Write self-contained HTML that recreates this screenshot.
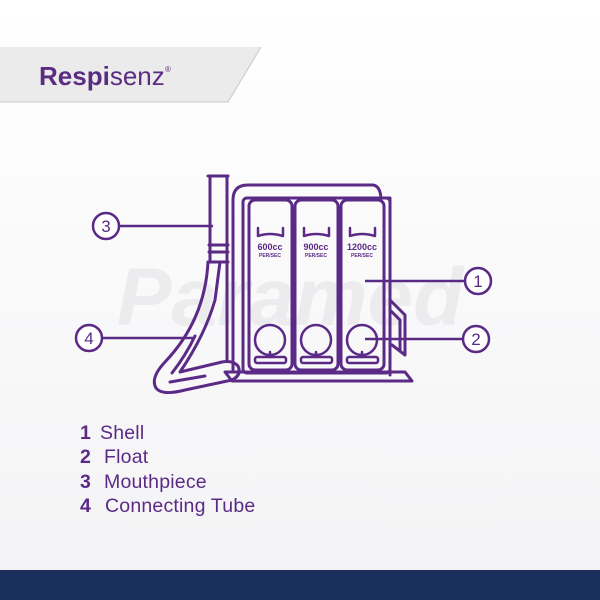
<!DOCTYPE html>
<html><head><meta charset="utf-8"><style>
html,body{margin:0;padding:0;width:600px;height:600px;overflow:hidden;background:#fbfbfc}
svg{display:block}
</style></head><body>
<svg width="600" height="600" viewBox="0 0 600 600" xmlns="http://www.w3.org/2000/svg" font-family="Liberation Sans, sans-serif">
<defs><linearGradient id="bg" x1="0" y1="0" x2="0" y2="1"><stop offset="0" stop-color="#ffffff"/><stop offset="1" stop-color="#f3f3f5"/></linearGradient></defs>
<rect width="600" height="600" fill="url(#bg)"/>
<polygon points="0,47 261,47 228,102 0,102" fill="#ebebec"/>
<polyline points="0,102 228,102 261,47" fill="none" stroke="#c8c8c8" stroke-width="1"/>
<text x="39" y="85" font-size="26" font-weight="bold" fill="#5a2d82">Respi<tspan font-weight="normal">senz</tspan></text>
<text x="165" y="72" font-size="8" fill="#5a2d82">®</text>
<text x="290" y="325" font-size="82" font-style="italic" font-weight="bold" fill="#ececef" text-anchor="middle">Paramed</text>
<g fill="none" stroke="#5b2a86" stroke-width="3" stroke-linejoin="round" stroke-linecap="round">
<path d="M233,370 L233,200 Q233,185 248,185 L372,185 Q380,185 381,198 L390,198 L390,375"/>
<rect x="243" y="198" width="147" height="175" rx="4"/>
<rect x="249" y="200" width="43" height="170" rx="6"/>
<rect x="295" y="200" width="43" height="170" rx="6"/>
<rect x="341" y="200" width="43" height="170" rx="6"/>
<g stroke-width="2.5">
<path d="M258,228 L258,236 Q270,232 283,236 L283,228"/>
<path d="M304,228 L304,236 Q316,232 329,236 L329,228"/>
<path d="M350,228 L350,236 Q362,232 375,236 L375,228"/>
<circle cx="270" cy="340" r="15"/><circle cx="316" cy="340" r="15"/><circle cx="362" cy="340" r="15"/>
<line x1="270" y1="352" x2="270" y2="357"/><line x1="316" y1="352" x2="316" y2="357"/><line x1="362" y1="352" x2="362" y2="357"/>
<rect x="255" y="357" width="31" height="6" rx="2"/><rect x="301" y="357" width="31" height="6" rx="2"/><rect x="347" y="357" width="31" height="6" rx="2"/>
</g>
<path d="M225,372 L232,381 L412,381 L405,372 Z"/>
<path d="M390,300 L405,315 L405,355 L392,345"/>
<path d="M390,310 L400,320 L400,350"/>
<!-- mouthpiece -->
<path d="M208,176 L228,176 M210,176 L210,245 M227,176 L227,245 M209,245 L228,245 M209,252 L228,252 M210,245 L210,262 M227,245 L227,360"/>
<!-- tube -->
<path d="M208,262 Q205,320 165,362 Q150,378 156,388 Q162,396 185,390 L232,380 Q242,375 238,366 Q233,360 222,362 L180,372 Q205,335 215,300 L220,262"/>
<path d="M208,262 L228,262"/>
<path d="M195,336 Q186,355 172,373"/>
<path d="M170,382 L205,376"/>
</g>
<text x="270" y="250" font-size="9" font-weight="bold" fill="#5b2a86" text-anchor="middle">600cc</text>
<text x="270" y="257" font-size="5" font-weight="bold" fill="#5b2a86" text-anchor="middle">PER/SEC</text>
<text x="316" y="250" font-size="9" font-weight="bold" fill="#5b2a86" text-anchor="middle">900cc</text>
<text x="316" y="257" font-size="5" font-weight="bold" fill="#5b2a86" text-anchor="middle">PER/SEC</text>
<text x="362" y="250" font-size="9" font-weight="bold" fill="#5b2a86" text-anchor="middle">1200cc</text>
<text x="362" y="257" font-size="5" font-weight="bold" fill="#5b2a86" text-anchor="middle">PER/SEC</text>
<g stroke="#5b2a86" stroke-width="2.5" fill="#fff">
<line x1="119" y1="226" x2="213" y2="226"/>
<line x1="102" y1="338" x2="195" y2="338"/>
<line x1="365" y1="281" x2="465" y2="281"/>
<line x1="365" y1="339" x2="463" y2="339"/>
<circle cx="106" cy="226" r="13"/>
<circle cx="89" cy="338" r="13"/>
<circle cx="478" cy="281" r="13"/>
<circle cx="476" cy="339" r="13"/>
</g>
<g font-size="17" fill="#5b2a86" text-anchor="middle">
<text x="106" y="232">3</text><text x="89" y="344">4</text><text x="478" y="287">1</text><text x="476" y="345">2</text>
</g>
<g font-size="19.5" fill="#5b2a86" letter-spacing="0.2">
<text x="80" y="439"><tspan font-weight="bold">1</tspan><tspan x="100">Shell</tspan></text>
<text x="80" y="463"><tspan font-weight="bold">2</tspan><tspan x="104">Float</tspan></text>
<text x="80" y="488"><tspan font-weight="bold">3</tspan><tspan x="104">Mouthpiece</tspan></text>
<text x="80" y="512"><tspan font-weight="bold">4</tspan><tspan x="105">Connecting Tube</tspan></text>
</g>
<rect x="0" y="570" width="600" height="30" fill="#1b2f5c"/>
</svg>
</body></html>
